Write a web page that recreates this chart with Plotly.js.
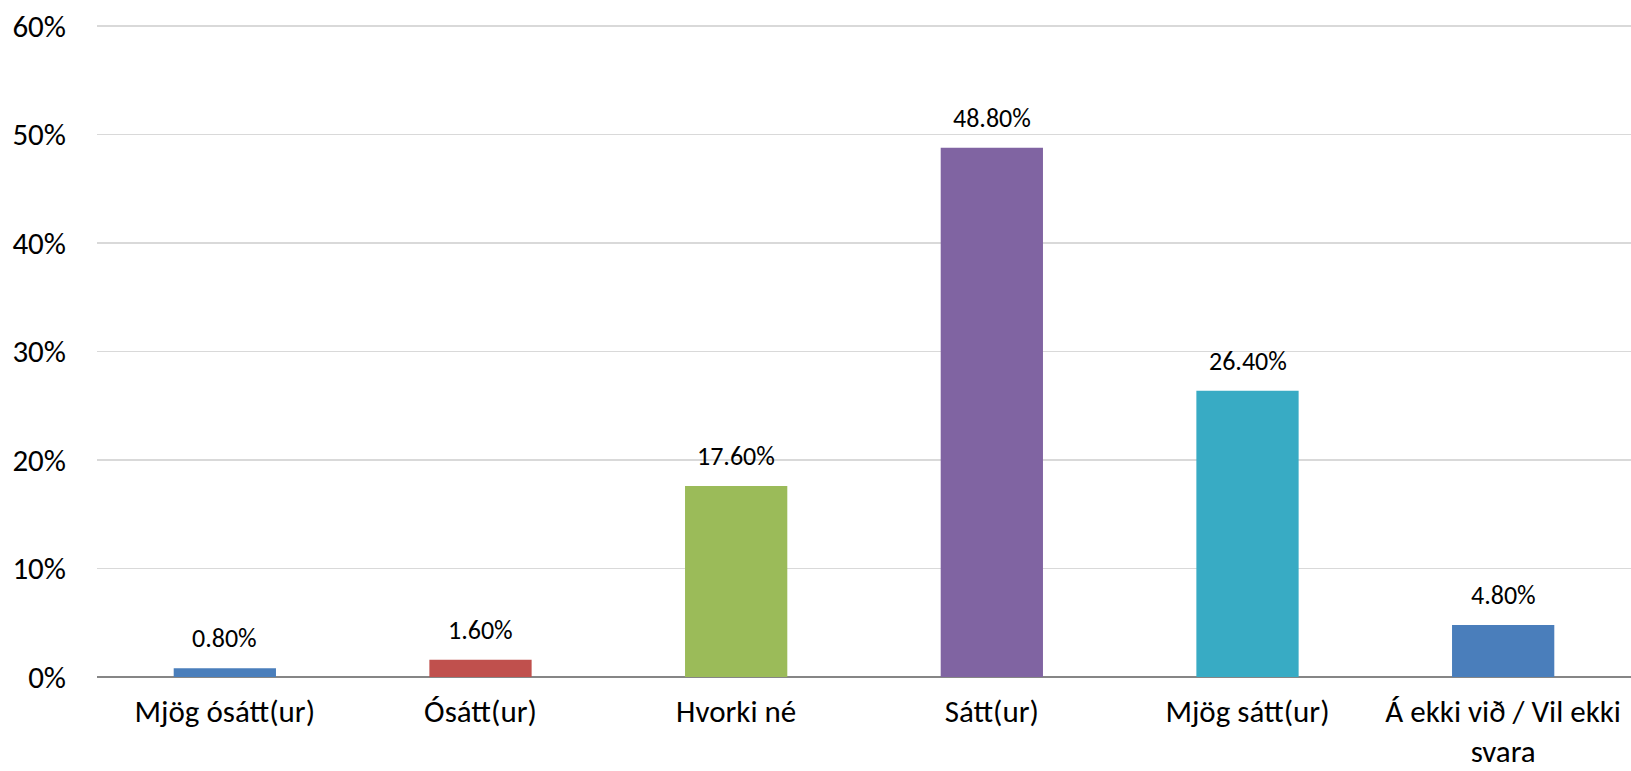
<!DOCTYPE html>
<html>
<head>
<meta charset="utf-8">
<script src="https://cdn.plot.ly/plotly-3.0.1.min.js"></script>
<style>html,body{margin:0;padding:0;background:#fff;}#chart{width:1631px;height:771px;}</style>
</head>
<body>
<div id="chart"></div>
<script>
const categories = ["Mjög ósátt(ur)", "Ósátt(ur)", "Hvorki né", "Sátt(ur)", "Mjög sátt(ur)", "Á ekki við / Vil ekki<br>svara"];
const values = [0.8, 1.6, 17.6, 48.8, 26.4, 4.8];
const labels = ["0.80%", "1.60%", "17.60%", "48.80%", "26.40%", "4.80%"];
const colors = ["#4A7EBB", "#C0504D", "#9BBB59", "#8064A2", "#38ABC4", "#4A7EBB"];
const yTicks = [0, 10, 20, 30, 40, 50, 60];
const yTickText = ["0%", "10%", "20%", "30%", "40%", "50%", "60%"];

const FONT = "Carlito, Lato, 'Open Sans', sans-serif";

const trace = {
  type: "bar",
  x: categories,
  y: values,
  marker: {color: colors, line: {width: 0}},
  hoverinfo: "none",
  cliponaxis: false
};

const annotations = categories.map((c, i) => ({
  x: c, y: values[i], xref: "x", yref: "y",
  text: labels[i], showarrow: false,
  yanchor: "bottom", yshift: 12,
  font: {family: FONT, size: 26, color: "#000"}
}));

const layout = {
  width: 1631, height: 771,
  margin: {l: 97, r: 0, t: 24, b: 94, pad: 0},
  paper_bgcolor: "#fff", plot_bgcolor: "#fff",
  bargap: 0.6,
  showlegend: false,
  font: {family: FONT, color: "#000"},
  xaxis: {
    type: "category",
    tickfont: {family: FONT, size: 31, color: "#000"},
    showgrid: false, zeroline: false,
    showline: false,
    ticks: "", ticklabelstandoff: 13,
    fixedrange: true
  },
  yaxis: {
    range: [0, 60.2],
    tickvals: yTicks, ticktext: yTickText,
    tickfont: {family: FONT, size: 31, color: "#000"},
    showgrid: true, gridcolor: "#D9D9D9", gridwidth: 1.5,
    zeroline: true, zerolinecolor: "#868686", zerolinewidth: 2,
    showline: false, ticks: "", ticklabelstandoff: 30,
    fixedrange: true
  },
  annotations: annotations
};

Plotly.newPlot("chart", [trace], layout, {displayModeBar: false, staticPlot: true});
</script>
</body>
</html>
